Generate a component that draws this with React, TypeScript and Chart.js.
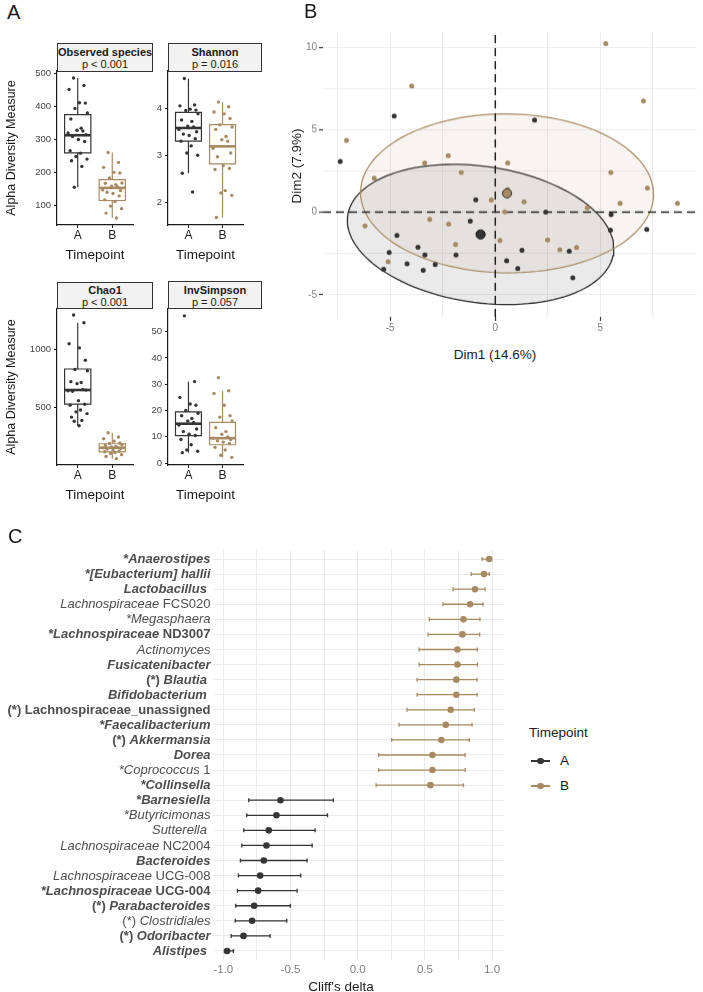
import React, { useEffect, useRef } from 'react';
import { Chart, registerables } from 'chart.js';

Chart.register(...registerables);

const FONT = "'Liberation Sans', Arial, Helvetica, sans-serif";
Chart.defaults.font.family = FONT;

const COL_A = '#353535';
const COL_B = '#a88a62';

// ---------------- Panel A : alpha diversity ----------------
const GROUPS = ['A', 'B'];
// horizontal jitter offsets (in category units) for the strip points
const JITTER = [-0.12, 0.18, -0.25, 0.05, 0.22, -0.08, 0.28, -0.2, 0.1, -0.02, 0.15, -0.28, 0.24, -0.15, 0.02, 0.2, -0.22, 0.08, -0.05, 0.27, -0.18, 0.12, -0.1, 0.04, -0.26];

// stats = [lower whisker, Q1, median, Q3, upper whisker]
const OBS_A = [486, 463, 451, 411, 410, 394, 380, 362, 334, 328, 326, 320, 315, 309, 300, 294, 266, 259, 249, 241, 236, 219, 156];
const OBS_B = [261, 231, 216, 201, 199, 184, 169, 168, 164, 159, 158, 148, 146, 141, 137, 130, 118, 113, 99, 91, 78, 63];
const OBS_STATS_A = [156, 260, 313, 375, 486];
const OBS_STATS_B = [63, 116, 154, 179, 261];
const OBS_RANGE = [42, 507];
const OBS_TICKS = [100, 200, 300, 400, 500];

const SHAN_A = [4.63, 4.07, 4.05, 3.98, 3.96, 3.95, 3.88, 3.75, 3.72, 3.62, 3.6, 3.55, 3.5, 3.45, 3.42, 3.35, 3.3, 3.2, 3.05, 3.0, 2.62, 2.22];
const SHAN_B = [4.13, 4.03, 3.92, 3.88, 3.78, 3.65, 3.6, 3.55, 3.4, 3.33, 3.3, 3.15, 3.05, 2.97, 2.78, 2.72, 2.7, 2.25, 2.2, 2.15, 1.68];
const SHAN_STATS_A = [2.62, 3.3, 3.58, 3.91, 4.63];
const SHAN_STATS_B = [1.68, 2.82, 3.19, 3.65, 4.13];
const SHAN_RANGE = [1.52, 4.79];
const SHAN_TICKS = [2, 3, 4];

const CHAO_A = [1290, 1224, 1045, 1010, 905, 826, 815, 722, 715, 705, 655, 645, 650, 640, 560, 530, 522, 480, 465, 450, 420, 392, 385, 347];
const CHAO_B = [287, 250, 235, 215, 200, 195, 185, 178, 170, 165, 160, 158, 152, 148, 140, 130, 125, 118, 110, 100, 85, 66];
const CHAO_STATS_A = [347, 531, 651, 830, 1224];
const CHAO_STATS_B = [66, 123, 159, 193, 287];
const CHAO_RANGE = [12, 1341];
const CHAO_TICKS = [500, 1000];

const INV_A = [56, 31, 25, 22.5, 22, 20, 19, 18, 17, 16, 15.5, 14.5, 13, 12, 11, 10.5, 9, 7, 5, 4.5, 4];
const INV_B = [32.5, 27.5, 26.5, 22, 18, 17.5, 16, 13.5, 12, 11, 10, 9.5, 9, 8.5, 8, 7.5, 6, 5, 3, 2.2];
const INV_STATS_A = [4, 10.5, 15, 19.5, 31];
const INV_STATS_B = [2.2, 7, 9.5, 15.5, 27.5];
const INV_RANGE = [-0.7, 58.6];
const INV_TICKS = [0, 10, 20, 30, 40, 50];

// ---------------- Panel B : PCA ----------------
const PCA_A_X = [-4.81, 1.87, -7.38, -0.93, -1.19, 2.4, 5.51, 5.48, 7.21, -4.68, -3.68, -3.35, -5.05, -1.87, 1.27, 3.52, -4.2, -2.86, 0.54, -3.43, -5.31, 1.07, 3.69];
const PCA_A_Y = [5.83, 5.59, 3.08, 0.75, -0.55, 0, -0.14, -1.09, -1.05, -1.41, -2.12, -2.59, -2.45, -2.59, -2.31, -2.37, -3.13, -3.18, -2.95, -3.52, -3.46, -3.42, -3.98];
const PCA_B_X = [5.26, -3.98, 7.05, -7.08, -2.24, -3.36, 0.59, -5.76, -1.62, 5.5, 7.24, -0.19, 1.37, 5.94, 8.67, 4.38, 0.45, -6.2, -3.12, -2.22, -1.89, 0.22, 2.49, 3.07, 3.87, -5.1, 0.59];
const PCA_B_Y = [10.22, 7.65, 6.74, 4.35, 3.42, 2.98, 2.98, 2.05, 2.41, 2.41, 1.46, 0.73, 0.63, 0.53, 0.53, 0.27, 0.02, -0.83, -0.44, -0.73, -1.96, -1.72, -1.68, -2.28, -2.14, -3.01, 1.38];
const PCA_CENTER_A = [-0.7, -1.35];
const PCA_CENTER_B = [0.56, 1.14];
// ellipse shape matrices [sxx, syy, sxy] in data units
const ELLIPSE_A = [40.2, 18.06, -5.4];
const ELLIPSE_B = [48.6, 23.2, -0.4];
const PCA_X_RANGE = [-8.2, 9.6];
const PCA_Y_RANGE = [-6.35, 10.95];
const PCA_X_GRID = [-7.5, -5, -2.5, 0, 2.5, 5, 7.5];
const PCA_Y_GRID = [-5, -2.5, 0, 2.5, 5, 7.5, 10];
const PCA_MAJOR = [-10, -5, 0, 5, 10];

// ---------------- Panel C : Cliff's delta ----------------
type Seg = [string, string];
const TAXA: Seg[][] = [
  [['*Anaerostipes', 'bi']],
  [['*[Eubacterium] hallii', 'bi']],
  [['Lactobacillus ', 'bi']],
  [['Lachnospiraceae', 'i'], [' FCS020', 'n']],
  [['*Megasphaera', 'i']],
  [['*Lachnospiraceae', 'bi'], [' ND3007', 'b']],
  [['Actinomyces', 'i']],
  [['Fusicatenibacter', 'bi']],
  [['(*) ', 'b'], ['Blautia ', 'bi']],
  [['Bifidobacterium ', 'bi']],
  [['(*) Lachnospiraceae_unassigned', 'b']],
  [['*Faecalibacterium', 'bi']],
  [['(*) ', 'b'], ['Akkermansia', 'bi']],
  [['Dorea', 'bi']],
  [['*Coprococcus', 'i'], [' 1', 'n']],
  [['*Collinsella', 'bi']],
  [['*Barnesiella', 'bi']],
  [['*Butyricimonas', 'i']],
  [['Sutterella ', 'i']],
  [['Lachnospiraceae', 'i'], [' NC2004', 'n']],
  [['Bacteroides', 'bi']],
  [['Lachnospiraceae', 'i'], [' UCG-008', 'n']],
  [['*Lachnospiraceae', 'bi'], [' UCG-004', 'b']],
  [['(*) ', 'b'], ['Parabacteroides', 'bi']],
  [['(*) ', 'n'], ['Clostridiales', 'i']],
  [['(*) ', 'b'], ['Odoribacter', 'bi']],
  [['Alistipes ', 'bi']],
];
const DELTA = [0.979, 0.94, 0.873, 0.836, 0.787, 0.779, 0.742, 0.742, 0.734, 0.734, 0.692, 0.655, 0.623, 0.556, 0.556, 0.541, -0.575, -0.605, -0.662, -0.679, -0.699, -0.726, -0.741, -0.771, -0.786, -0.85, -0.972];
const CI_LOW = [0.925, 0.845, 0.71, 0.635, 0.533, 0.524, 0.457, 0.457, 0.442, 0.442, 0.367, 0.308, 0.253, 0.156, 0.156, 0.137, -0.811, -0.826, -0.848, -0.863, -0.873, -0.888, -0.895, -0.908, -0.912, -0.942, -0.992];
const CI_HIGH = [0.995, 0.98, 0.948, 0.933, 0.91, 0.908, 0.891, 0.891, 0.888, 0.888, 0.868, 0.851, 0.831, 0.799, 0.799, 0.787, -0.181, -0.225, -0.317, -0.339, -0.377, -0.424, -0.451, -0.501, -0.528, -0.652, -0.925];
const TAXA_GROUP = ['B', 'B', 'B', 'B', 'B', 'B', 'B', 'B', 'B', 'B', 'B', 'B', 'B', 'B', 'B', 'B', 'A', 'A', 'A', 'A', 'A', 'A', 'A', 'A', 'A', 'A', 'A'];
const C_X_RANGE = [-1.077, 1.094];
const C_X_GRID = [-1, -0.75, -0.5, -0.25, 0, 0.25, 0.5, 0.75, 1];

// ---------------- helpers ----------------
function ChartCanvas({ x, y, w, h, make }: any) {
  const ref = useRef<HTMLCanvasElement>(null);
  useEffect(() => {
    const chart = new Chart(ref.current as HTMLCanvasElement, make());
    return () => chart.destroy();
  }, []);
  return <canvas ref={ref} width={w} height={h} style={{ position: 'absolute', left: x, top: y, width: w, height: h }} />;
}

const setTicks = (vals: number[]) => (s: any) => {
  s.ticks = vals.map((v) => ({ value: v }));
};

// --------- box plot panel ---------
const BOX_HW = 0.38;
function boxDatasets(stats: number[], c: number, color: string) {
  const [lo, q1, med, q3, hi] = stats;
  const base: any = { type: 'line', borderColor: color, borderWidth: 1.2, pointRadius: 0, fill: false, order: 2 };
  return [
    { ...base, data: [{ x: c, y: lo }, { x: c, y: q1 }] },
    { ...base, data: [{ x: c, y: q3 }, { x: c, y: hi }] },
    {
      ...base,
      borderCapStyle: 'square',
      borderJoinStyle: 'miter',
      data: [{ x: c - BOX_HW, y: q1 }, { x: c + BOX_HW, y: q1 }, { x: c + BOX_HW, y: q3 }, { x: c - BOX_HW, y: q3 }, { x: c - BOX_HW, y: q1 }],
    },
    { ...base, borderWidth: 2.6, data: [{ x: c - BOX_HW, y: med }, { x: c + BOX_HW, y: med }] },
  ];
}
function jitterPoints(vals: number[], c: number, color: string) {
  return {
    type: 'scatter',
    data: vals.map((v, i) => ({ x: c + JITTER[i % JITTER.length], y: v })),
    pointBackgroundColor: color,
    pointBorderWidth: 0,
    pointRadius: 1.7,
    order: 0,
  };
}

const BOX_PANELS = [
  { name: 'Observed species', p: 'p < 0.001', a: OBS_A, b: OBS_B, sa: OBS_STATS_A, sb: OBS_STATS_B, range: OBS_RANGE, ticks: OBS_TICKS, yTitle: true, left: 57, right: 133, top: 71, bottom: 225, stripTop: 43, stripW: 96 },
  { name: 'Shannon', p: 'p = 0.016', a: SHAN_A, b: SHAN_B, sa: SHAN_STATS_A, sb: SHAN_STATS_B, range: SHAN_RANGE, ticks: SHAN_TICKS, yTitle: false, left: 168, right: 243, top: 71, bottom: 225, stripTop: 43, stripW: 94 },
  { name: 'Chao1', p: 'p < 0.001', a: CHAO_A, b: CHAO_B, sa: CHAO_STATS_A, sb: CHAO_STATS_B, range: CHAO_RANGE, ticks: CHAO_TICKS, yTitle: true, left: 57, right: 133, top: 308.5, bottom: 465, stripTop: 281.5, stripW: 96 },
  { name: 'InvSimpson', p: 'p = 0.057', a: INV_A, b: INV_B, sa: INV_STATS_A, sb: INV_STATS_B, range: INV_RANGE, ticks: INV_TICKS, yTitle: false, left: 168, right: 243, top: 308.5, bottom: 465, stripTop: 281, stripW: 94 },
];

function BoxPanel({ P }: any) {
  const axisW = P.yTitle ? 57 : 28;
  const padT = 10;
  const padR = 7;
  const axisH = 38;
  const cx = P.left - axisW;
  const cy = P.top - padT;
  const w = axisW + (P.right - P.left) + padR;
  const h = padT + (P.bottom - P.top) + axisH;
  const make = () => ({
    type: 'scatter',
    data: {
      datasets: [
        jitterPoints(P.a, 1, COL_A),
        jitterPoints(P.b, 2, COL_B),
        ...boxDatasets(P.sa, 1, COL_A),
        ...boxDatasets(P.sb, 2, COL_B),
      ],
    },
    options: {
      responsive: false,
      animation: false,
      layout: { padding: { top: padT, right: padR, left: 0, bottom: 0 } },
      plugins: { legend: { display: false }, tooltip: { enabled: false } },
      scales: {
        x: {
          type: 'linear',
          min: 0.4,
          max: 2.6,
          afterBuildTicks: setTicks([1, 2]),
          afterFit: (s: any) => { s.height = axisH; },
          ticks: { callback: (v: number) => GROUPS[Math.round(v) - 1], color: '#1a1a1a', font: { size: 12 }, padding: 0, maxRotation: 0, autoSkip: false },
          grid: { drawOnChartArea: false, drawTicks: true, tickLength: 3, color: '#1a1a1a', lineWidth: 1 },
          border: { display: true, color: '#1a1a1a', width: 1.2 },
          title: { display: true, text: 'Timepoint', color: '#1a1a1a', font: { size: 13.5 }, padding: 0 },
        },
        y: {
          type: 'linear',
          min: P.range[0],
          max: P.range[1],
          afterBuildTicks: setTicks(P.ticks),
          afterFit: (s: any) => { s.width = axisW; },
          ticks: { callback: (v: number) => String(v), color: '#444', font: { size: 9.5 }, padding: 3 },
          grid: { drawOnChartArea: false, drawTicks: true, tickLength: 3, color: '#1a1a1a', lineWidth: 1 },
          border: { display: true, color: '#1a1a1a', width: 1.2 },
          title: { display: P.yTitle, text: 'Alpha Diversity Measure', color: '#1a1a1a', font: { size: 12.5 }, padding: { top: 4, bottom: 0 } },
        },
      },
    },
  });
  return (
    <>
      <ChartCanvas x={cx} y={cy} w={w} h={h} make={make} />
      <div
        style={{
          position: 'absolute', left: P.left, top: P.stripTop, width: P.stripW, height: P.top - P.stripTop + 0.5,
          boxSizing: 'border-box', border: '1px solid #333', background: '#f2f2f2', textAlign: 'center',
          fontFamily: FONT, fontSize: 11, lineHeight: '12px', color: '#1a1a1a', paddingTop: 1.5, whiteSpace: 'nowrap',
        }}
      >
        <div style={{ fontWeight: 'bold' }}>{P.name}</div>
        <div>{P.p}</div>
      </div>
    </>
  );
}

// --------- PCA panel ---------
function ellipsePath(center: number[], shape: number[]) {
  const [sxx, syy, sxy] = shape;
  const l11 = Math.sqrt(sxx);
  const l21 = sxy / l11;
  const l22 = Math.sqrt(syy - l21 * l21);
  const pts = [];
  for (let k = 0; k <= 120; k++) {
    const t = (k / 120) * Math.PI * 2;
    pts.push({ x: center[0] + l11 * Math.cos(t), y: center[1] + l21 * Math.cos(t) + l22 * Math.sin(t) });
  }
  return pts;
}

const PCA_BOX = { left: 323, right: 697, top: 31.5, bottom: 316.5 };
function PcaPanel() {
  const cx = 285;
  const cy = 20;
  const w = 418;
  const axisH = 24;
  const axisW = PCA_BOX.left - cx;
  const padT = PCA_BOX.top - cy;
  const padR = cx + w - PCA_BOX.right;
  const h = PCA_BOX.bottom - cy + axisH;
  const isMajor = (v: number) => PCA_MAJOR.includes(v);
  const make = () => ({
    type: 'scatter',
    data: {
      datasets: [
        { type: 'scatter', data: [{ x: PCA_CENTER_A[0], y: PCA_CENTER_A[1] }], pointRadius: 4.6, pointBackgroundColor: COL_A, pointBorderColor: '#111', pointBorderWidth: 1, order: 0 },
        { type: 'scatter', data: [{ x: PCA_CENTER_B[0], y: PCA_CENTER_B[1] }], pointRadius: 4.6, pointBackgroundColor: COL_B, pointBorderColor: '#333', pointBorderWidth: 1, order: 0 },
        { type: 'scatter', data: PCA_B_X.map((x, i) => ({ x, y: PCA_B_Y[i] })), pointRadius: 2.5, pointBackgroundColor: COL_B, pointBorderWidth: 0, order: 1 },
        { type: 'scatter', data: PCA_A_X.map((x, i) => ({ x, y: PCA_A_Y[i] })), pointRadius: 2.5, pointBackgroundColor: COL_A, pointBorderWidth: 0, order: 2 },
        { type: 'line', data: [{ x: PCA_X_RANGE[0], y: 0 }, { x: PCA_X_RANGE[1], y: 0 }], borderColor: '#222', borderWidth: 1.5, borderDash: [8, 5], pointRadius: 0, fill: false, order: 3 },
        { type: 'line', data: [{ x: 0, y: PCA_Y_RANGE[0] }, { x: 0, y: PCA_Y_RANGE[1] }], borderColor: '#222', borderWidth: 1.5, borderDash: [8, 5], pointRadius: 0, fill: false, order: 3 },
        { type: 'line', data: ellipsePath(PCA_CENTER_B, ELLIPSE_B), borderColor: COL_B, borderWidth: 1.2, backgroundColor: 'rgba(168,138,98,0.09)', fill: 'shape', pointRadius: 0, tension: 0, order: 4 },
        { type: 'line', data: ellipsePath(PCA_CENTER_A, ELLIPSE_A), borderColor: '#2e2e2e', borderWidth: 1.3, backgroundColor: 'rgba(60,60,60,0.11)', fill: 'shape', pointRadius: 0, tension: 0, order: 5 },
      ],
    },
    options: {
      responsive: false,
      animation: false,
      layout: { padding: { top: padT, right: padR, left: 0, bottom: 0 } },
      plugins: { legend: { display: false }, tooltip: { enabled: false } },
      scales: {
        x: {
          type: 'linear',
          min: PCA_X_RANGE[0],
          max: PCA_X_RANGE[1],
          afterBuildTicks: setTicks(PCA_X_GRID),
          afterFit: (s: any) => { s.height = axisH; },
          ticks: { callback: (v: number) => (isMajor(v) ? String(v) : ''), color: '#7f7f7f', font: { size: 10 }, padding: 1, maxRotation: 0, autoSkip: false },
          grid: { color: '#ececec', lineWidth: 1, tickLength: 4, tickWidth: 1.2, tickColor: (c: any) => (c.tick && isMajor(c.tick.value) ? '#333' : 'rgba(0,0,0,0)') },
          border: { display: false },
        },
        y: {
          type: 'linear',
          min: PCA_Y_RANGE[0],
          max: PCA_Y_RANGE[1],
          afterBuildTicks: setTicks(PCA_Y_GRID),
          afterFit: (s: any) => { s.width = axisW; },
          ticks: { callback: (v: number) => (isMajor(v) ? String(v) : ''), color: '#7f7f7f', font: { size: 10 }, padding: 2, autoSkip: false },
          grid: { color: '#ececec', lineWidth: 1, tickLength: 4, tickWidth: 1.2, tickColor: (c: any) => (c.tick && isMajor(c.tick.value) ? '#333' : 'rgba(0,0,0,0)') },
          border: { display: false },
        },
      },
    },
  });
  return <ChartCanvas x={cx} y={cy} w={w} h={h} make={make} />;
}

// --------- Cliff's delta panel ---------
const segFont = (s: string) => `${s.includes('i') ? 'italic ' : ''}${s.includes('b') ? 'bold ' : ''}13px ${FONT}`;
const taxaLabelPlugin = {
  id: 'taxaLabels',
  afterDraw(chart: any) {
    const { ctx, chartArea } = chart;
    const y = chart.scales.y;
    ctx.save();
    ctx.textBaseline = 'middle';
    ctx.textAlign = 'left';
    ctx.fillStyle = '#4d4d4d';
    TAXA.forEach((segs, i) => {
      const py = y.getPixelForValue(i);
      const widths = segs.map(([t, s]) => { ctx.font = segFont(s); return ctx.measureText(t).width; });
      const total = widths.reduce((a, b) => a + b, 0);
      let x = chartArea.left - 2.5 - total;
      segs.forEach(([t, s], k) => { ctx.font = segFont(s); ctx.fillText(t, x, py + 0.5); x += widths[k]; });
    });
    ctx.restore();
  },
};

const C_BOX = { left: 213, right: 505, top: 550, bottom: 960 };
function ForestPanel() {
  const cx = 0;
  const cy = 540;
  const w = 510;
  const axisH = 20;
  const h = C_BOX.bottom - cy + axisH;
  const colorOf = (g: string) => (g === 'A' ? COL_A : COL_B);
  const caps = (g: string) => ({
    type: 'scatter',
    data: TAXA.flatMap((_, i) => (TAXA_GROUP[i] === g ? [{ x: CI_LOW[i], y: i }, { x: CI_HIGH[i], y: i }] : [])),
    pointStyle: 'line', pointRotation: 90, pointRadius: 2, pointBorderColor: colorOf(g), pointBorderWidth: 1.3, order: 2,
  });
  const pts = (g: string) => ({
    type: 'scatter',
    data: TAXA.flatMap((_, i) => (TAXA_GROUP[i] === g ? [{ x: DELTA[i], y: i }] : [])),
    pointRadius: 3.3, pointBackgroundColor: colorOf(g), pointBorderWidth: 0, order: 0,
  });
  const make = () => ({
    type: 'scatter',
    data: {
      datasets: [
        pts('A'),
        pts('B'),
        caps('A'),
        caps('B'),
        ...TAXA.map((_, i) => ({
          type: 'line', data: [{ x: CI_LOW[i], y: i }, { x: CI_HIGH[i], y: i }],
          borderColor: colorOf(TAXA_GROUP[i]), borderWidth: 1.3, pointRadius: 0, fill: false, order: 3,
        })),
      ],
    },
    options: {
      responsive: false,
      animation: false,
      layout: { padding: { top: C_BOX.top - cy, right: cx + w - C_BOX.right, left: 0, bottom: 0 } },
      plugins: { legend: { display: false }, tooltip: { enabled: false } },
      scales: {
        x: {
          type: 'linear',
          min: C_X_RANGE[0],
          max: C_X_RANGE[1],
          afterBuildTicks: setTicks(C_X_GRID),
          afterFit: (s: any) => { s.height = axisH; },
          ticks: { callback: (v: number) => (Math.abs(v * 2 - Math.round(v * 2)) < 1e-9 ? v.toFixed(1) : ''), color: '#7f7f7f', font: { size: 11.5 }, padding: 3, maxRotation: 0, autoSkip: false },
          grid: { color: '#ebebeb', lineWidth: 1, drawTicks: false },
          border: { display: false },
        },
        y: {
          type: 'linear',
          min: -0.6,
          max: TAXA.length - 0.4,
          reverse: true,
          afterBuildTicks: setTicks(TAXA.map((_, i) => i)),
          afterFit: (s: any) => { s.width = C_BOX.left - cx; },
          ticks: { display: false },
          grid: { color: '#ebebeb', lineWidth: 1, drawTicks: false },
          border: { display: false },
        },
      },
    },
    plugins: [taxaLabelPlugin],
  });
  return <ChartCanvas x={cx} y={cy} w={w} h={h} make={make} />;
}

const txt = (extra: any) => ({ position: 'absolute' as const, fontFamily: FONT, color: '#1a1a1a', whiteSpace: 'nowrap' as const, lineHeight: 1, ...extra });

function LegendEntry({ y, label, color }: any) {
  return (
    <>
      <div style={{ position: 'absolute', left: 531, top: y - 0.65, width: 19, height: 1.3, background: color }} />
      <div style={{ position: 'absolute', left: 540.5 - 3.4, top: y - 3.4, width: 6.8, height: 6.8, borderRadius: '50%', background: color }} />
      <div style={txt({ left: 560, top: y - 7, fontSize: 13.5 })}>{label}</div>
    </>
  );
}

export default function App() {
  return (
    <div style={{ position: 'absolute', left: 0, top: 0, width: 703, height: 992, background: '#fff', overflow: 'hidden' }}>
      {BOX_PANELS.map((P) => <BoxPanel key={P.name} P={P} />)}
      <PcaPanel />
      <ForestPanel />

      <div style={txt({ left: 7, top: 2, fontSize: 20 })}>A</div>
      <div style={txt({ left: 304, top: 1, fontSize: 20 })}>B</div>
      <div style={txt({ left: 8, top: 526, fontSize: 20 })}>C</div>

      <div style={txt({ left: 495, top: 355, fontSize: 13.5, transform: 'translate(-50%, -50%)' })}>Dim1 (14.6%)</div>
      <div style={txt({ left: 297, top: 166, fontSize: 13.5, transform: 'translate(-50%, -50%) rotate(-90deg)' })}>Dim2 (7.9%)</div>

      <div style={txt({ left: 341, top: 986.5, fontSize: 13.5, transform: 'translate(-50%, -50%)' })}>Cliff's delta</div>

      <div style={txt({ left: 529, top: 726, fontSize: 13.5 })}>Timepoint</div>
      <LegendEntry y={761} label="A" color={COL_A} />
      <LegendEntry y={786} label="B" color={COL_B} />
    </div>
  );
}
